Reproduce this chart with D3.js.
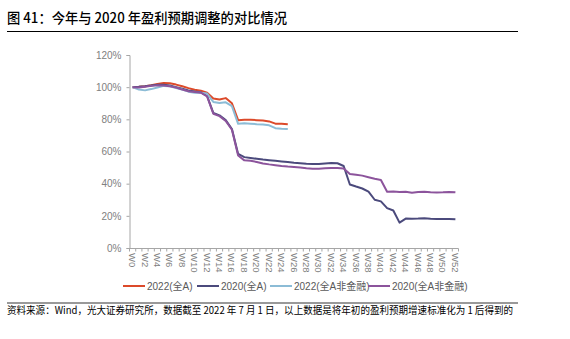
<!DOCTYPE html>
<html><head><meta charset="utf-8">
<script src="https://cdn.jsdelivr.net/npm/d3@7"></script>
<style>
body{margin:0;background:#fff;}
svg{display:block;}
</style></head>
<body>
<svg id="chart" width="570" height="339"></svg>
<script>
// ---- data ----
const weeks = d3.range(0, 53).map(i => "W" + i);
const xTickLabels = d3.range(0, 53, 2).map(i => "W" + i);
const yTicks = [0, 0.2, 0.4, 0.6, 0.8, 1.0, 1.2];

const s2022All = [100,100.2,100.6,101.2,102,102.6,102.4,101.6,100.6,99.4,98.4,97.8,96.5,93,92.3,93.2,90,79.5,79.8,79.7,79.5,79.3,78.7,77.3,77.2,76.9];
const s2020All = [100,100.2,100.5,101,101.5,101.5,101,100,99,98,97.3,96.8,94.5,84,82.5,79.5,74,58.5,56.5,56,55.5,55,54.6,54.2,53.8,53.4,53,52.7,52.4,52.2,52.3,52.6,52.8,52.7,51,39.5,38.2,37,35,30,29,24.8,23.3,15.8,18.3,18.2,18.3,18.5,18.2,18,18.1,18,17.8];
const s2022NonFin = [100,98.5,98,98.8,99.8,100.8,100.5,99.5,98.5,97.2,96.5,96.5,96,90.8,90.2,90.6,88.2,77.2,77.5,77.3,77,76.8,76.3,74.5,74.2,74];
const s2020NonFin = [100,99.8,100.3,100.8,101.2,101,100.5,99.8,98.5,97.5,97,96.6,94.3,83.5,82,79,73.5,57.5,54.5,54.2,53.5,52.6,52,51.5,51,50.6,50.3,50,49.6,49.3,49.3,49.6,49.8,49.8,49.5,46,45.5,45,44,43,42.3,35,35.1,34.8,35,34.4,34.8,35,34.7,34.5,34.6,34.8,34.6];

const seriesNames = ["2022(全A)", "2020(全A)", "2022(全A非金融)", "2020(全A非金融)"];
const seriesColors = ["#dc4a2a", "#4b4a7c", "#8cbcd6", "#8c549c"];
const seriesData = [s2022All, s2020All, s2022NonFin, s2020NonFin];

const titleText = "图 41：今年与 2020 年盈利预期调整的对比情况";
const sourceText = "资料来源：Wind，光大证券研究所，数据截至 2022 年 7 月 1 日，以上数据是将年初的盈利预期增速标准化为 1 后得到的";

// ---- drawing ----
const svg = d3.select("#chart");
const latin = "'Liberation Sans', Arial, 'Noto Sans CJK SC', sans-serif";
const cjk = "'Noto Sans CJK SC', 'Liberation Sans', sans-serif";

svg.append("text").attr("x", 7).attr("y", 23)
  .attr("font-family", cjk).attr("font-size", 14).attr("font-weight", 500)
  .attr("textLength", 280).attr("lengthAdjust", "spacingAndGlyphs")
  .attr("fill", "#000").text(titleText);
svg.append("line").attr("x1", 7).attr("x2", 518).attr("y1", 31.5).attr("y2", 31.5)
  .attr("stroke", "#000").attr("stroke-width", 1);

svg.append("line").attr("x1", 7).attr("x2", 518).attr("y1", 303).attr("y2", 303)
  .attr("stroke", "#777").attr("stroke-width", 1.5);
svg.append("text").attr("x", 7).attr("y", 314)
  .attr("font-family", cjk).attr("font-size", 10.5)
  .attr("textLength", 506).attr("lengthAdjust", "spacingAndGlyphs")
  .attr("fill", "#000").text(sourceText);

const x = d3.scaleBand().domain(weeks).range([129.5, 458.5]).padding(0);
const y = d3.scaleLinear().domain([0, 1.2]).range([248, 55]);
const cx = w => x(w) + x.bandwidth() / 2;

// y axis
const yAxis = d3.axisLeft(y).tickValues(yTicks).tickSize(3).tickPadding(5)
  .tickFormat(d => Math.round(d * 100) + "%");
const gy = svg.append("g").attr("transform", "translate(129.5,0)").call(yAxis);
gy.select(".domain").attr("stroke", "#a6a6a6");
gy.selectAll(".tick line").attr("stroke", "#a6a6a6");
gy.selectAll("text").attr("font-family", latin).attr("font-size", 10).attr("fill", "#808080");

// x axis: boundary ticks
const gx = svg.append("g").attr("transform", "translate(0,248)");
gx.append("line").attr("x1", x.range()[0]).attr("x2", x.range()[1]).attr("y1", 0.5).attr("y2", 0.5)
  .attr("stroke", "#a6a6a6");
const boundaries = weeks.map(w => x(w)).concat([x.range()[1]]);
gx.selectAll("line.tk").data(boundaries).enter().append("line").attr("class", "tk")
  .attr("x1", d => d).attr("x2", d => d).attr("y1", 0.5).attr("y2", 3.5)
  .attr("stroke", "#a6a6a6");
gx.selectAll("text.lb").data(xTickLabels).enter().append("text").attr("class", "lb")
  .attr("transform", d => `translate(${cx(d) - 3.5},5) rotate(90)`)
  .attr("font-family", latin).attr("font-size", 9.5).attr("fill", "#808080")
  .text(d => d);

// lines
const line = d3.line().x((d, i) => cx(weeks[i])).y(d => y(d / 100));
seriesData.forEach((s, k) => {
  svg.append("path").datum(s).attr("d", line)
    .attr("fill", "none").attr("stroke", seriesColors[k]).attr("stroke-width", 2)
    .attr("stroke-linejoin", "round");
});

// legend
const legendX = [123, 197, 270, 368];
const lg = svg.append("g");
seriesNames.forEach((n, k) => {
  lg.append("line").attr("x1", legendX[k]).attr("x2", legendX[k] + 22).attr("y1", 286).attr("y2", 286)
    .attr("stroke", seriesColors[k]).attr("stroke-width", 2);
  lg.append("text").attr("x", legendX[k] + 24).attr("y", 289.5)
    .attr("font-family", latin).attr("font-size", 10).attr("fill", "#595959").text(n);
});
</script>
</body></html>
